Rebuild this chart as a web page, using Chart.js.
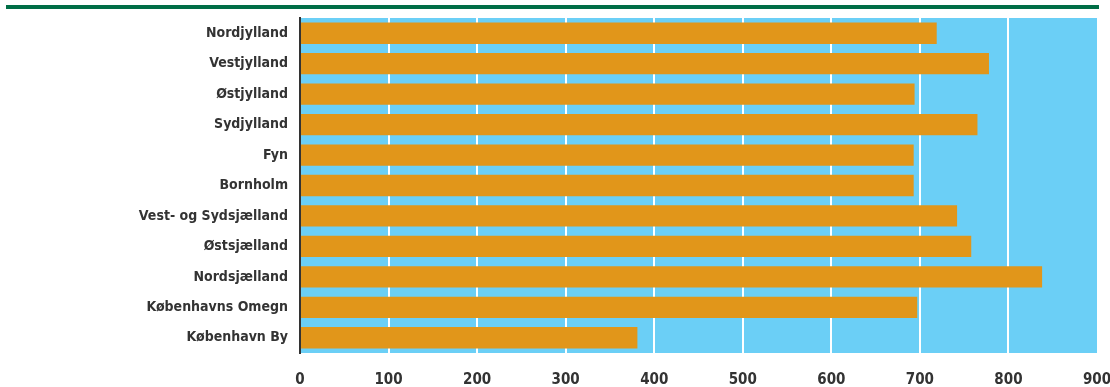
<!DOCTYPE html>
<html>
<head>
<meta charset="utf-8">
<script src="https://cdn.jsdelivr.net/npm/chart.js@4/dist/chart.umd.min.js"></script>
<style>
  html, body { margin: 0; padding: 0; background: #fff; }
  #wrap { width: 1110px; height: 387px; position: relative; }
</style>
</head>
<body>
<div id="wrap"><canvas id="c" width="1110" height="387"></canvas></div>
<script>
const categories = ["Nordjylland", "Vestjylland", "Østjylland", "Sydjylland", "Fyn", "Bornholm",
  "Vest- og Sydsjælland", "Østsjælland", "Nordsjælland", "Københavns Omegn", "København By"];
const values = [719, 778, 694, 765, 693, 693, 742, 758, 838, 697, 381];
const xTicks = [0, 100, 200, 300, 400, 500, 600, 700, 800, 900];

const FONT = "'Liberation Sans Narrow', 'DejaVu Sans Condensed', 'Arial Narrow', sans-serif";

const bgPlugin = {
  id: 'bg',
  beforeDraw(chart) {
    const { ctx, chartArea: a } = chart;
    ctx.save();
    ctx.fillStyle = '#6BCFF6';
    ctx.fillRect(a.left, a.top, a.right - a.left, a.bottom - a.top);
    ctx.fillStyle = '#006E46';
    ctx.fillRect(6, 5, 1093, 4);
    ctx.restore();
  }
};

new Chart(document.getElementById('c'), {
  type: 'bar',
  data: {
    labels: categories,
    datasets: [{
      data: values,
      backgroundColor: '#E1961A',
      borderWidth: 0,
      barPercentage: 0.7,
      categoryPercentage: 1.0
    }]
  },
  options: {
    indexAxis: 'y',
    responsive: false,
    animation: false,
    layout: { padding: { top: 18, right: 13, left: 0, bottom: 0 } },
    plugins: { legend: { display: false }, tooltip: { enabled: false } },
    scales: {
      x: {
        min: 0, max: 900,
        afterBuildTicks(axis) { axis.ticks = xTicks.map(v => ({ value: v })); },
        afterFit(axis) { axis.height = 34; axis.paddingLeft = 0; axis.paddingRight = 0; },
        grid: {
          color: (ctx) => (ctx.tick && (ctx.tick.value === 0 || ctx.tick.value === 900)) ? 'rgba(0,0,0,0)' : '#FFFFFF',
          lineWidth: 2,
          drawTicks: false
        },
        border: { display: false },
        ticks: {
          padding: 18,
          color: '#333333',
          font: { family: FONT, size: 15, weight: 'bold' }
        }
      },
      y: {
        afterFit(axis) { axis.width = 300; axis.paddingTop = 0; axis.paddingBottom = 0; },
        grid: { display: false, drawTicks: false },
        border: { display: true, color: '#333333', width: 2 },
        ticks: {
          padding: 12,
          color: '#333333',
          font: { family: FONT, size: 14, weight: 'bold' }
        }
      }
    }
  },
  plugins: [bgPlugin]
});
</script>
</body>
</html>
